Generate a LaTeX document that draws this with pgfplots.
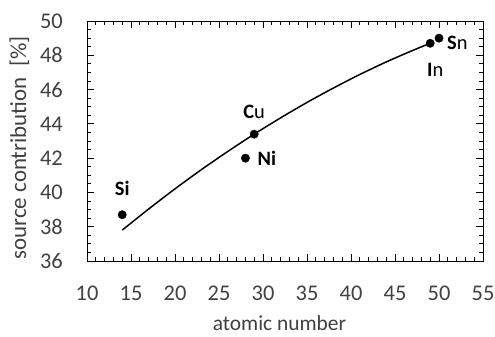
\documentclass[border=0pt]{standalone}
\usepackage{pgfplots}
\pgfplotsset{compat=1.18}
\usetikzlibrary{calc}
\usepackage{fontspec}
\setmainfont{Carlito}
\definecolor{txt}{HTML}{404040}
\begin{document}
\begin{tikzpicture}
\begin{axis}[
  scale only axis, width=396bp, height=240bp,
  xmin=10, xmax=55, ymin=36, ymax=50,
  xtick={10,15,...,55}, ytick={36,38,...,50},
  minor x tick num=4, minor y tick num=3,
  tick align=inside,
  major tick length=7bp, minor tick length=4bp,
  tick style={black, line width=0.8pt},
  axis line style={black, line width=0.9pt},
  /pgf/number format/assume math mode=true,
  ticklabel style={font=\fontsize{22.5}{26}\selectfont, text=txt, inner sep=0pt},
  xticklabel style={anchor=north, yshift=-25bp},
  yticklabel style={anchor=east, xshift=-24bp},
  xlabel={atomic number}, ylabel={source contribution\ \ [\%]},
  xlabel style={font=\fontsize{21.5}{24}\selectfont, text=txt, at={(axis description cs:0.486,-0.29)}, anchor=base, inner sep=0pt},
  ylabel style={font=\fontsize{23}{26}\selectfont, text=txt, at={(axis description cs:-0.154,0.471)}, rotate=0, anchor=base, inner sep=0pt},
  clip=false,
]
\addplot[black, line width=1.5pt, smooth] coordinates {
 (14,37.80) (17,39.03) (20,40.21) (23,41.33) (26,42.39) (29,43.40)
 (32,44.35) (35,45.25) (38,46.09) (41,46.88) (44,47.61) (47,48.28) (49,48.70)};
\addplot[only marks, mark=*, mark size=4.2bp, black] coordinates {
 (14,38.7) (28,42.0) (29,43.4) (49,48.7) (50,49.0)};
\node[anchor=base, inner sep=0pt, yshift=19bp, font=\fontsize{20.5}{24}\selectfont] at (axis cs:14,38.7) {\textbf{Si}};
\node[anchor=west, inner sep=0pt, xshift=12bp, font=\fontsize{20.5}{24}\selectfont] at (axis cs:28,42.0) {\textbf{Ni}};
\node[anchor=base, inner sep=0pt, yshift=16bp, font=\fontsize{20.5}{24}\selectfont] at (axis cs:29,43.4) {\textbf{C}u};
\node[anchor=north, inner sep=0pt, xshift=5bp, yshift=-20bp, font=\fontsize{20.5}{24}\selectfont] at (axis cs:49,48.7) {\textbf{I}n};
\node[anchor=west, inner sep=0pt, xshift=8bp, yshift=-5bp, font=\fontsize{20.5}{24}\selectfont] at (axis cs:50,49.0) {\textbf{S}n};
\end{axis}
\pgfresetboundingbox
\path ($(current axis.south west)+(-87bp,-75bp)$) rectangle ($(current axis.north east)+(12bp,21bp)$);
\end{tikzpicture}
\end{document}
